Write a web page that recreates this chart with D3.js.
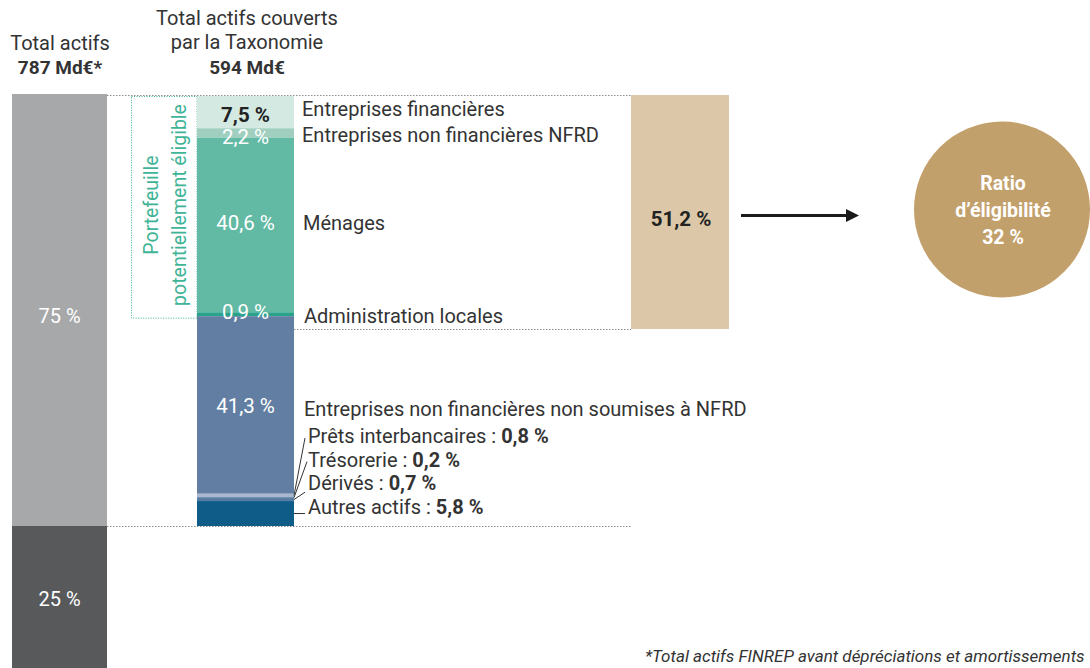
<!DOCTYPE html>
<html>
<head>
<meta charset="utf-8">
<script src="https://cdn.jsdelivr.net/npm/d3@7"></script>
<style>
  body { margin: 0; background: #fff; }
  svg { display: block; font-family: Roboto, "Noto Sans", sans-serif; }
</style>
</head>
<body>
<div id="chart"></div>
<script>
// totals (Md€)
const totalAssets = 787;
const taxAssets = 594;
const eligibilityRatio = 32;

// left column : share of total assets covered / not covered
const totalShares = [75, 25];
const totalColors = ["#a7a8aa", "#58595b"];

// middle column : breakdown of taxonomy assets (%)
const taxCategories = [
  "Entreprises financières",
  "Entreprises non financières NFRD",
  "Ménages",
  "Administration locales",
  "Entreprises non financières non soumises à NFRD",
  "Prêts interbancaires",
  "Trésorerie",
  "Dérivés",
  "Autres actifs"
];
const taxValues = [7.5, 2.2, 40.6, 0.9, 41.3, 0.8, 0.2, 0.7, 5.8];
const taxColors = ["#d5e9e3", "#a0cfc0", "#62b9a4", "#2aa38a", "#627fa3", "#a9b8cf", "#567aa0", "#567aa0", "#0f5c89"];
const eligibleCount = 4; // first 4 segments = portefeuille potentiellement éligible

function fmt(v) {
  return String(v).replace(".", ",") + " %";
}

function draw() {
  var width = 1090,
    height = 668;
  var textColor = "#333333";

  var svg = d3
    .select("#chart")
    .append("svg")
    .attr("width", width)
    .attr("height", height);

  // vertical scales
  var yTot = d3.scaleLinear().domain([0, 100]).range([94, 670]);
  var yTax = d3
    .scaleLinear()
    .domain([0, 100])
    .range([96, yTot(totalShares[0])]);

  var leftX = 12,
    leftW = 95,
    midX = 197,
    midW = 97;

  // stacks
  var totStack = [];
  var acc = 0;
  totalShares.forEach((v, i) => {
    totStack.push({ v: v, y0: acc, y1: acc + v, c: totalColors[i] });
    acc += v;
  });

  var taxStack = [];
  acc = 0;
  taxValues.forEach((v, i) => {
    taxStack.push({ name: taxCategories[i], v: v, y0: acc, y1: acc + v, c: taxColors[i], i: i });
    acc += v;
  });
  var eligibleShare = d3.sum(taxValues.slice(0, eligibleCount));

  // dotted guides
  var dotted = "#8c8c8c";
  svg
    .append("line")
    .attr("x1", leftX + leftW)
    .attr("x2", 631)
    .attr("y1", 95.5)
    .attr("y2", 95.5)
    .attr("stroke", dotted)
    .attr("stroke-dasharray", "1.5,1.5");
  svg
    .append("line")
    .attr("x1", leftX + leftW)
    .attr("x2", 631)
    .attr("y1", yTot(totalShares[0]) + 0.5)
    .attr("y2", yTot(totalShares[0]) + 0.5)
    .attr("stroke", dotted)
    .attr("stroke-dasharray", "1.5,1.5");
  svg
    .append("line")
    .attr("x1", midX + midW)
    .attr("x2", 631)
    .attr("y1", 329.5)
    .attr("y2", 329.5)
    .attr("stroke", dotted)
    .attr("stroke-dasharray", "1.5,1.5");

  // green dotted box around eligible part
  svg
    .append("rect")
    .attr("x", 131.5)
    .attr("y", 96.5)
    .attr("width", midX - 131.5)
    .attr("height", yTax(eligibleShare) + 2 - 96.5)
    .attr("fill", "none")
    .attr("stroke", "#3fb497")
    .attr("stroke-dasharray", "1,1.5");

  svg
    .append("text")
    .attr("transform", "translate(158,205) rotate(-90)")
    .attr("text-anchor", "middle")
    .style("font-size", "19.5px")
    .style("fill", "#3fb497")
    .text("Portefeuille");
  svg
    .append("text")
    .attr("transform", "translate(186,205) rotate(-90)")
    .attr("text-anchor", "middle")
    .style("font-size", "19.5px")
    .style("fill", "#3fb497")
    .text("potentiellement éligible");

  // left column
  svg
    .selectAll("rect.tot")
    .data(totStack)
    .enter()
    .append("rect")
    .attr("class", "tot")
    .attr("x", leftX)
    .attr("width", leftW)
    .attr("y", (d) => yTot(d.y0))
    .attr("height", (d) => yTot(d.y1) - yTot(d.y0))
    .attr("fill", (d) => d.c);

  svg
    .selectAll("text.tot")
    .data(totStack)
    .enter()
    .append("text")
    .attr("class", "tot")
    .attr("x", leftX + leftW / 2)
    .attr("y", (d, i) => (i == 0 ? yTot((d.y0 + d.y1) / 2) + 13 : yTot((d.y0 + d.y1) / 2) + 8))
    .attr("text-anchor", "middle")
    .style("font-size", "20px")
    .style("fill", "#fff")
    .text((d) => d.v + " %");

  // middle column
  svg
    .selectAll("rect.tax")
    .data(taxStack)
    .enter()
    .append("rect")
    .attr("class", "tax")
    .attr("x", midX)
    .attr("width", midW)
    .attr("y", (d) => yTax(d.y0))
    .attr("height", (d) => yTax(d.y1) - yTax(d.y0))
    .attr("fill", (d) => d.c);

  var mid = (d) => yTax((d.y0 + d.y1) / 2);

  // values inside the bar
  var insideNudge = [3, 4, -2, -2, 1];
  svg
    .selectAll("text.taxv")
    .data(taxStack.slice(0, 5))
    .enter()
    .append("text")
    .attr("class", "taxv")
    .attr("x", midX + midW / 2)
    .attr("y", (d, i) => mid(d) + 7 + insideNudge[i])
    .attr("text-anchor", "middle")
    .style("font-size", "20.5px")
    .style("font-weight", (d, i) => (i == 0 ? "bold" : "normal"))
    .style("fill", (d, i) => (i == 0 ? "#222" : "#fff"))
    .text((d) => fmt(d.v));

  // category names on the right
  var rightNudge = [-3, 2, -2, 2, 4];
  var rightX = [302, 302, 303, 304, 304];
  svg
    .selectAll("text.taxn")
    .data(taxStack.slice(0, 5))
    .enter()
    .append("text")
    .attr("class", "taxn")
    .attr("x", (d, i) => rightX[i])
    .attr("y", (d, i) => mid(d) + 7 + rightNudge[i])
    .style("font-size", "20px")
    .style("fill", textColor)
    .text((d) => d.name);

  // small segments with leader lines
  var small = taxStack.slice(5);
  var listTop = 443,
    listStep = 23.6;
  var leaderDy = [-5, -5, 2, -1];
  svg
    .selectAll("line.lead")
    .data(small)
    .enter()
    .append("line")
    .attr("class", "lead")
    .attr("x1", midX + midW)
    .attr("y1", (d) => mid(d))
    .attr("x2", (d, i) => (i == 1 ? 307 : 305))
    .attr("y2", (d, i) => (i == 3 ? mid(d) : listTop + i * listStep + leaderDy[i]))
    .attr("stroke", "#333")
    .attr("stroke-width", 1);

  var smallText = svg
    .selectAll("text.small")
    .data(small)
    .enter()
    .append("text")
    .attr("class", "small")
    .attr("x", 308)
    .attr("y", (d, i) => listTop + i * listStep)
    .style("font-size", "20px")
    .style("fill", textColor);
  smallText.append("tspan").text((d) => d.name + " : ");
  smallText
    .append("tspan")
    .style("font-weight", "bold")
    .text((d) => fmt(d.v));

  // eligible share block
  svg
    .append("rect")
    .attr("x", 631)
    .attr("y", 95)
    .attr("width", 98)
    .attr("height", 234)
    .attr("fill", "#dcc8a8");
  svg
    .append("text")
    .attr("x", 681)
    .attr("y", 226)
    .attr("text-anchor", "middle")
    .style("font-size", "20.5px")
    .style("font-weight", "bold")
    .style("fill", "#222")
    .text(fmt(Math.round(eligibleShare * 10) / 10));

  // arrow
  svg
    .append("line")
    .attr("x1", 741)
    .attr("x2", 848)
    .attr("y1", 215.5)
    .attr("y2", 215.5)
    .attr("stroke", "#1a1a1a")
    .attr("stroke-width", 3);
  svg
    .append("path")
    .attr("d", "M846,209 L859,215.5 L846,222 Z")
    .attr("fill", "#1a1a1a");

  // ratio circle
  svg
    .append("circle")
    .attr("cx", 1002)
    .attr("cy", 209.5)
    .attr("r", 88)
    .attr("fill", "#c2a06b");
  var ratioLines = ["Ratio", "d’éligibilité", eligibilityRatio + " %"];
  svg
    .selectAll("text.ratio")
    .data(ratioLines)
    .enter()
    .append("text")
    .attr("class", "ratio")
    .attr("x", 1003)
    .attr("y", (d, i) => 190 + i * 27)
    .attr("text-anchor", "middle")
    .style("font-size", "19.5px")
    .style("font-weight", "bold")
    .style("fill", "#fff")
    .text((d) => d);

  // headers
  var head = svg.append("g").style("fill", textColor).attr("text-anchor", "middle");
  head.append("text").attr("x", 60).attr("y", 50).style("font-size", "20px").text("Total actifs");
  head
    .append("text")
    .attr("x", 60)
    .attr("y", 74)
    .style("font-size", "19px")
    .style("font-weight", "bold")
    .text(totalAssets + " Md€*");
  head.append("text").attr("x", 247).attr("y", 25).style("font-size", "20px").text("Total actifs couverts");
  head.append("text").attr("x", 247).attr("y", 49).style("font-size", "20px").text("par la Taxonomie");
  head
    .append("text")
    .attr("x", 247)
    .attr("y", 74)
    .style("font-size", "19px")
    .style("font-weight", "bold")
    .text(taxAssets + " Md€");

  // footnote
  svg
    .append("text")
    .attr("x", 645)
    .attr("y", 662)
    .style("font-size", "17px")
    .style("font-style", "italic")
    .style("fill", textColor)
    .text("*Total actifs FINREP avant dépréciations et amortissements");
}

draw();
</script>
</body>
</html>
